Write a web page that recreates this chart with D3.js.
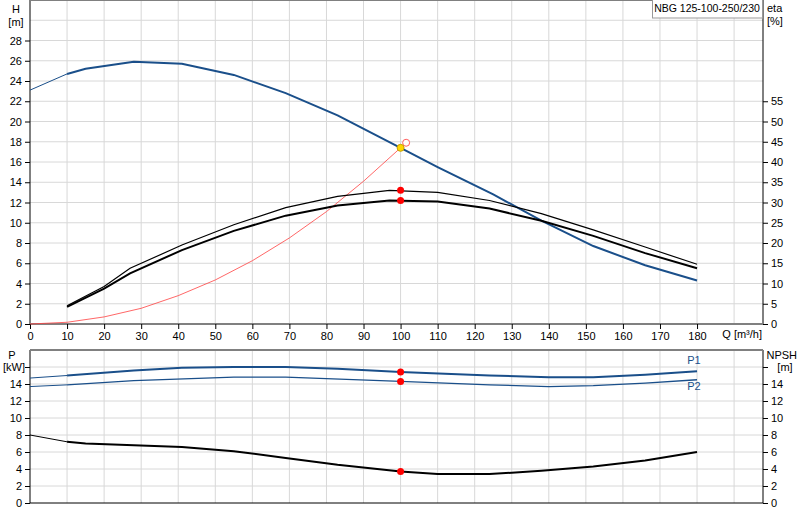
<!DOCTYPE html>
<html>
<head>
<script src="https://cdn.jsdelivr.net/npm/d3@7"></script>
<style>body{margin:0;background:#fff}text{font-family:Arial,"Liberation Sans",sans-serif;font-size:11px}</style>
</head>
<body>
<svg width="800" height="520"></svg>
<script>
// data
var headQ = [0,10,15,28,41,55,69,83,100,110,125,138,152,166,180]
var headH = [23.1,24.7,25.2,25.9,25.7,24.6,22.8,20.6,17.4,15.5,12.8,10.2,7.7,5.8,4.3]
var etaQ = [10,20,27,41,55,69,83,97,110,124,138,152,166,180]
var etaLow = [4.25,8.75,12.5,18.25,23,26.75,29.25,30.5,30.25,28.5,25.5,21.75,17.5,13.75]
var etaHigh = [4.5,9.25,13.75,19.5,24.5,28.75,31.5,33,32.5,30.5,27.25,23.25,19,14.75]
var sysQ = [0,10,20,30,40,50,60,70,80,90,100,101.5]
var sysH = [0,0.17,0.7,1.55,2.8,4.35,6.25,8.5,11.1,14.1,17.4,17.9]
var p1Q = [0,10,28,41,55,69,83,100,124,140,152,166,180]
var p1 = [14.7,15.0,15.6,15.9,16.0,16.0,15.8,15.4,15.0,14.8,14.8,15.1,15.5]
var p2Q = [0,10,28,55,69,100,124,140,152,166,180]
var p2 = [13.7,13.9,14.4,14.8,14.8,14.3,13.9,13.7,13.8,14.1,14.5]
var npshQ = [0,10,15,41,55,69,83,100,110,124,138,152,166,180]
var npsh = [8.0,7.2,7.0,6.6,6.1,5.3,4.5,3.7,3.4,3.4,3.8,4.3,5.0,6.0]
var xTicks = [0,10,20,30,40,50,60,70,80,90,100,110,120,130,140,150,160,170,180]
var hTicks = [0,2,4,6,8,10,12,14,16,18,20,22,24,26,28]
var etaTicks = [0,5,10,15,20,25,30,35,40,45,50,55]
var pTicks = [0,2,4,6,8,10,12,14]

var svg = d3.select('svg')
var L = 30, R = 763
var x = d3.scaleLinear().domain([0,197.8]).range([L,R])
var yH = d3.scaleLinear().domain([0,32]).range([324,0])
var yE = d3.scaleLinear().domain([0,80]).range([324,0])
var yP = d3.scaleLinear().domain([0,18]).range([503,350])
var dark = '#1a4f8a'

function grid(y0,y1,yScale,vals){
  var g = svg.append('g').attr('stroke','#d8d8d8')
  d3.range(10,200,10).forEach(function(q){
    g.append('line').attr('x1',x(q)).attr('x2',x(q)).attr('y1',y0).attr('y2',y1)
  })
  vals.forEach(function(v){
    g.append('line').attr('x1',L).attr('x2',R).attr('y1',yScale(v)).attr('y2',yScale(v))
  })
}
grid(0,324,yH,d3.range(2,32,2))
grid(350,503,yP,d3.range(2,18,2))

// axes
function ax(axis,tr,vals,fmt){
  var g = svg.append('g').attr('transform',tr).call(axis.tickValues(vals).tickSize(5).tickFormat(fmt||d3.format('d')))
  g.selectAll('text').style('font-size','11px').attr('fill','#000')
  g.select('.domain').attr('stroke','#000')
  return g
}
ax(d3.axisLeft(yH),'translate('+L+',0)',hTicks).select('.domain').attr('d','M-0,0V324')
ax(d3.axisRight(yE),'translate('+R+',0)',etaTicks).select('.domain').attr('d','M0,0V324')
var gx = ax(d3.axisBottom(x),'translate(0,324)',xTicks)
gx.select('.domain').attr('stroke','#808080').attr('stroke-width',2).attr('d','M'+L+',0H'+R)
ax(d3.axisLeft(yP),'translate('+L+',0)',pTicks.concat([16]),function(d){return d==16?'':d}).select('.domain').attr('d','M0,350V503')
ax(d3.axisRight(yP),'translate('+R+',0)',pTicks.concat([16]),function(d){return d==16?'':d}).select('.domain').attr('d','M0,350V503')
svg.append('line').attr('x1',L).attr('x2',R).attr('y1',503).attr('y2',503).attr('stroke','#000')
svg.append('line').attr('x1',L).attr('x2',R).attr('y1',350).attr('y2',350).attr('stroke','#808080').attr('stroke-width',2)
svg.append('line').attr('x1',L).attr('x2',R).attr('y1',0.5).attr('y2',0.5).attr('stroke','#808080')

// labels
function txt(t,xx,yy,anchor,col){
  return svg.append('text').attr('x',xx).attr('y',yy).attr('text-anchor',anchor||'middle').attr('fill',col||'#000').text(t)
}
txt('H',16,13); txt('[m]',16,26)
txt('eta',767,12,'start'); txt('[%]',767,25,'start')
txt('Q [m³/h]',762,338,'end')
txt('P',12,359); txt('[kW]',14,371)
txt('NPSH',797,359,'end'); txt('[m]',785,371)
txt('P1',694,364,'middle',dark); txt('P2',694,390,'middle',dark)
svg.append('rect').attr('x',652.5).attr('y',-1).attr('width',110).attr('height',19).attr('fill','#fff').attr('stroke','#999')
txt('NBG 125-100-250/230',707,12).style('font-size','10.5px')

function line(qs,vs,ys,col,w,from){
  var pts = qs.map(function(q,i){return [q,vs[i]]}).filter(function(p){return p[0]>=(from||0)})
  svg.append('path').attr('d',d3.line().x(function(d){return x(d[0])}).y(function(d){return ys(d[1])})(pts))
    .attr('fill','none').attr('stroke',col).attr('stroke-width',w)
}
// head: thin then thick
line(headQ.slice(0,2),headH.slice(0,2),yH,dark,1)
line(headQ.slice(1),headH.slice(1),yH,dark,2)
line(sysQ,sysH,yH,'#ff4040',0.8)
line(etaQ,etaHigh,yE,'#000',1.2)
line(etaQ,etaLow,yE,'#000',2)
line(p1Q.slice(0,2),p1.slice(0,2),yP,dark,1)
line(p1Q.slice(1),p1.slice(1),yP,dark,2)
line(p2Q.slice(0,2),p2.slice(0,2),yP,dark,1)
line(p2Q.slice(1),p2.slice(1),yP,dark,1.3)
line(npshQ.slice(0,2),npsh.slice(0,2),yP,'#000',1)
line(npshQ.slice(1),npsh.slice(1),yP,'#000',2)

function dot(q,yy,fill,stroke){
  svg.append('circle').attr('cx',x(q)).attr('cy',yy).attr('r',3.5).attr('fill',fill).attr('stroke',stroke||'none')
}
dot(101.5,yH(17.9),'#fff','#ff6060')
dot(100,yH(17.4),'#ffd700','#c8a000')
dot(100,yE(33),'#ff0000'); dot(100,yE(30.5),'#ff0000')
dot(100,yP(15.4),'#ff0000'); dot(100,yP(14.3),'#ff0000'); dot(100,yP(3.7),'#ff0000')
</script>
</body>
</html>
